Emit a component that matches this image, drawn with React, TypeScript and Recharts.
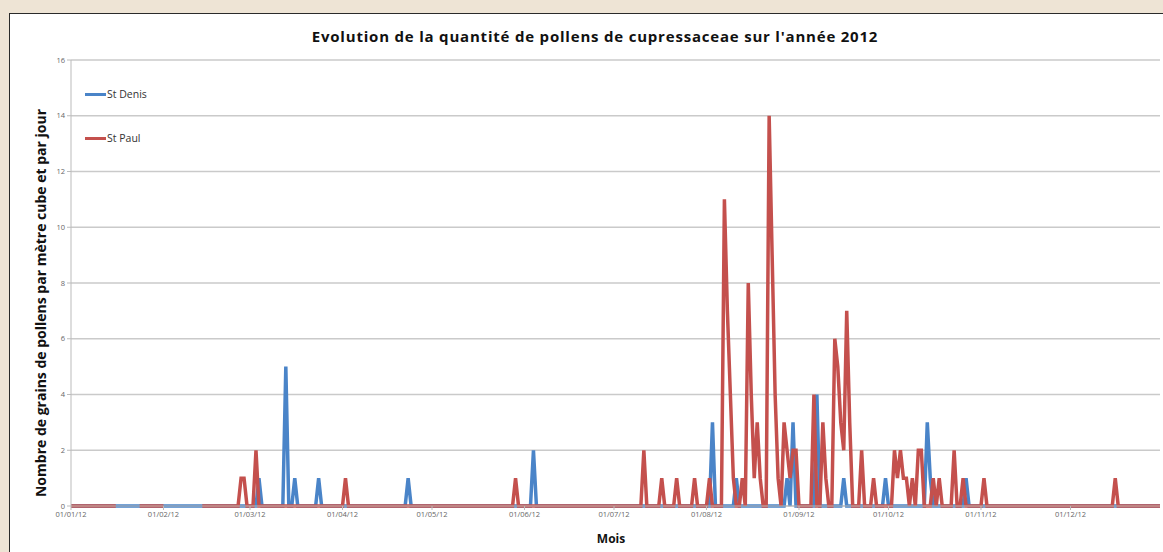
import { CartesianGrid, Legend, Line, LineChart, XAxis, YAxis } from "recharts"

// daily readings for 2012 (leap year), dd/mm of each non-zero day
const monthLabels = [
  "01/01/12", "01/02/12", "01/03/12", "01/04/12", "01/05/12", "01/06/12",
  "01/07/12", "01/08/12", "01/09/12", "01/10/12", "01/11/12", "01/12/12",
]
const yTicks = [0, 2, 4, 6, 8, 10, 12, 14, 16]

const stDenisDates = [
  "04/03", "13/03", "16/03", "24/03", "23/04", "04/06", "03/08", "11/08",
  "28/08", "30/08", "07/09", "16/09", "30/09", "14/10", "15/10", "27/10",
]
const stDenisValues = [1, 5, 1, 1, 1, 2, 3, 1, 1, 3, 4, 1, 1, 3, 1, 1]

const stPaulDates = [
  "27/02", "28/02", "03/03", "02/04", "29/05", "11/07", "17/07", "22/07",
  "28/07", "02/08", "07/08", "08/08", "09/08", "10/08", "13/08", "15/08",
  "16/08", "17/08", "18/08", "19/08", "22/08", "23/08", "24/08", "25/08",
  "27/08", "28/08", "29/08", "30/08", "31/08", "06/09", "09/09", "10/09",
  "13/09", "14/09", "15/09", "16/09", "17/09", "18/09", "22/09", "26/09",
  "03/10", "04/10", "05/10", "06/10", "07/10", "09/10", "11/10", "12/10",
  "16/10", "18/10", "23/10", "26/10", "02/11", "16/12",
]
const stPaulValues = [
  1, 1, 2, 1, 1, 2, 1, 1,
  1, 1, 11, 7, 4, 1, 1, 8,
  4, 1, 3, 1, 14, 9, 4, 1,
  3, 2, 1, 2, 2, 4, 3, 1,
  6, 5, 3, 2, 7, 3, 2, 1,
  2, 1, 2, 1, 1, 1, 2, 2,
  1, 1, 2, 1, 1, 1,
]
// no St Paul reading on these days
const stPaulGaps = [["17/01", "23/01"], ["02/02", "13/02"]]

const dayOfYear = (dm: string) => {
  const [d, m] = dm.split("/").map(Number)
  return Math.round((Date.UTC(2012, m - 1, d) - Date.UTC(2012, 0, 1)) / 86400000)
}

const monthStarts = monthLabels.map((l) => dayOfYear(l.slice(0, 5)))

const data = Array.from({ length: 366 }, (_, day) => ({ day, denis: 0 as number | null, paul: 0 as number | null }))
stDenisDates.forEach((d, i) => { data[dayOfYear(d)].denis = stDenisValues[i] })
stPaulDates.forEach((d, i) => { data[dayOfYear(d)].paul = stPaulValues[i] })
stPaulGaps.forEach(([a, b]) => {
  for (let k = dayOfYear(a); k <= dayOfYear(b); k++) data[k].paul = null
})

const BLUE = "#4a84c8"
const RED = "#c4504d"
const FONT = "'Open Sans', Lato, sans-serif"

function LegendBox() {
  const items = [
    { name: "St Denis", color: BLUE },
    { name: "St Paul", color: RED },
  ]
  return (
    <div style={{ fontFamily: FONT, fontSize: 10.5, color: "#333" }}>
      {items.map((it) => (
        <div key={it.name} style={{ display: "flex", alignItems: "center", height: 44 }}>
          <span style={{ display: "inline-block", width: 21, height: 3, background: it.color }} />
          <span style={{ marginLeft: 1 }}>{it.name}</span>
        </div>
      ))}
    </div>
  )
}

export default function App() {
  return (
    <div style={{ position: "absolute", left: 0, top: 0, width: 1163, height: 552, background: "#eee4d5", overflow: "hidden" }}>
      <div
        style={{
          position: "absolute", left: 9, top: 13, width: 1160, height: 545, background: "#fff",
          borderLeft: "1.5px solid #2a2a2a", borderTop: "1.5px solid #2a2a2a",
        }}
      />
      <div style={{ position: "absolute", left: 0, top: 0 }}>
        <LineChart width={1163} height={552} data={data} margin={{ top: 60, right: 3, bottom: 26, left: 0 }}>
          <CartesianGrid vertical={false} stroke="#cacaca" strokeWidth={1.5} />
          <XAxis
            dataKey="day"
            type="number"
            domain={[0, 365]}
            ticks={monthStarts}
            tickFormatter={(v: number) => monthLabels[monthStarts.indexOf(v)]}
            height={20}
            tickSize={4}
            stroke="#bbb"
            tick={{ fontSize: 7.5, fill: "#666", fontFamily: FONT }}
          />
          <YAxis
            width={71}
            domain={[0, 16]}
            ticks={yTicks}
            tickSize={4}
            stroke="#bbb"
            tick={{ fontSize: 7.5, fill: "#666", fontFamily: FONT }}
          />
          <Legend
            layout="horizontal"
            align="center"
            verticalAlign="middle"
            content={() => <LegendBox />}
            wrapperStyle={{ top: 72, left: 85, width: 120, height: 88 }}
          />
          <Line dataKey="denis" name="St Denis" type="linear" stroke={BLUE} strokeWidth={3.5} dot={false} isAnimationActive={false} />
          <Line dataKey="paul" name="St Paul" type="linear" stroke={RED} strokeWidth={3.5} dot={false} isAnimationActive={false} />
        </LineChart>
      </div>
      <div
        style={{
          position: "absolute", left: 0, width: 1190, top: 26, textAlign: "center", fontFamily: FONT,
          fontWeight: 700, fontSize: 15, letterSpacing: 0.8, color: "#111",
        }}
      >
        Evolution de la quantité de pollens de cupressaceae sur l'année 2012
      </div>
      <div
        style={{
          position: "absolute", left: 40, top: 303, width: 460, transform: "translate(-50%, -50%) rotate(-90deg)",
          textAlign: "center", fontFamily: FONT, fontWeight: 700, fontSize: 14, color: "#111", whiteSpace: "nowrap",
        }}
      >
        Nombre de grains de pollens par mètre cube et par jour
      </div>
      <div style={{ position: "absolute", left: 511, width: 200, top: 530, textAlign: "center", fontFamily: FONT, fontWeight: 700, fontSize: 12, color: "#111" }}>
        Mois
      </div>
    </div>
  )
}
